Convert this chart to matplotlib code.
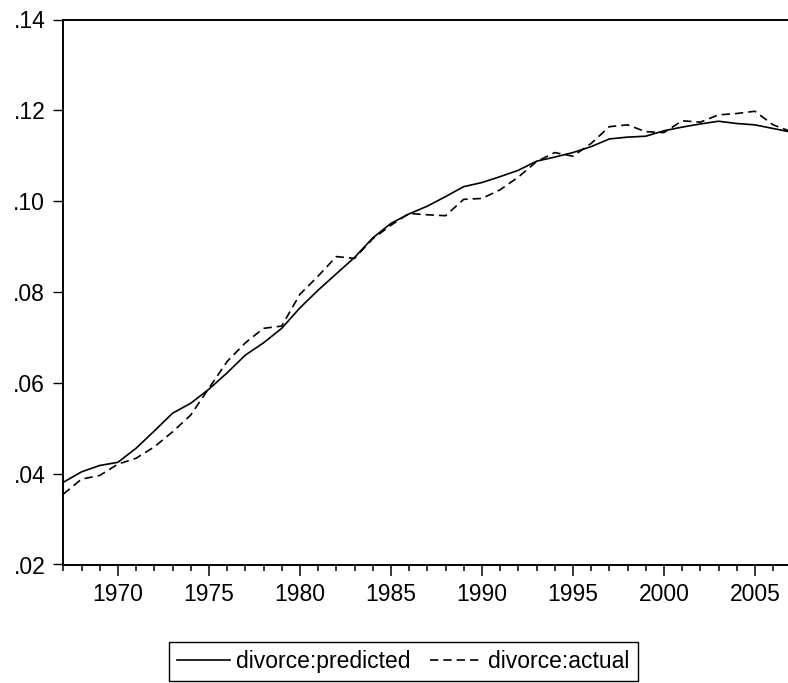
import numpy as np
from matplotlib import pyplot as plt
from matplotlib.ticker import FuncFormatter, MultipleLocator

years = np.arange(1967, 2008)

predicted = [0.0381, 0.0404, 0.0418, 0.0425, 0.0456, 0.0494, 0.0533, 0.0555,
             0.0586, 0.0622, 0.0661, 0.0688, 0.0720, 0.0765, 0.0804, 0.0840,
             0.0876, 0.0919, 0.0951, 0.0972, 0.0989, 0.1010, 0.1032, 0.1041,
             0.1054, 0.1068, 0.1088, 0.1097, 0.1107, 0.1120, 0.1137, 0.1141,
             0.1143, 0.1155, 0.1163, 0.1170, 0.1176, 0.1171, 0.1168, 0.1160,
             0.1152]

actual = [0.0355, 0.0388, 0.0396, 0.0421, 0.0434, 0.0459, 0.0492, 0.0529,
          0.0588, 0.0647, 0.0688, 0.0720, 0.0725, 0.0795, 0.0835, 0.0878,
          0.0874, 0.0917, 0.0947, 0.0973, 0.0970, 0.0968, 0.1004, 0.1006,
          0.1025, 0.1053, 0.1087, 0.1107, 0.1099, 0.1127, 0.1164, 0.1168,
          0.1153, 0.1151, 0.1177, 0.1174, 0.1190, 0.1193, 0.1198, 0.1168,
          0.1153]

plt.rcParams['font.family'] = ['Liberation Sans', 'DejaVu Sans']

W, H = 788, 683
fig = plt.figure(figsize=(W / 100, H / 100), dpi=100)
left, right, top, bottom = 63.3, 791.3, 19.5, 564.5
ax = fig.add_axes([left / W, 1 - bottom / H, (right - left) / W, (bottom - top) / H])

ax.plot(years, predicted, color='black', lw=1.2, label='divorce:predicted')
ax.plot(years, actual, color='black', lw=1.2, ls=(0, (5, 3)), label='divorce:actual')

ax.set_xlim(1967, 2007)
ax.set_ylim(0.02, 0.14)

# EViews-style ticks: year labels every 5, a small tick each year
ax.xaxis.set_major_locator(MultipleLocator(5))
ax.xaxis.set_minor_locator(MultipleLocator(1))
ax.yaxis.set_major_locator(MultipleLocator(0.02))
ax.yaxis.set_major_formatter(FuncFormatter(lambda v, p: f'{v:.2f}'.lstrip('0')))

ax.tick_params(axis='x', which='major', direction='out', length=8, width=1.1,
               labelsize=16.5, pad=5)
ax.tick_params(axis='x', which='minor', direction='out', length=4.5, width=1.1)
ax.tick_params(axis='y', direction='out', length=7, width=1.0, labelsize=16.5, pad=6)
ax.tick_params(top=False, right=False)

for s in ax.spines.values():
    s.set_linewidth(1.4)

leg = fig.legend(loc='upper center', bbox_to_anchor=(403.5 / W, 1 - 642 / H), ncol=2,
                 fontsize=16.5, frameon=True, fancybox=False, edgecolor='black',
                 framealpha=1, handlelength=2.3, handletextpad=0.25,
                 columnspacing=0.85, borderpad=0.35, borderaxespad=0)
leg.get_frame().set_linewidth(1.0)

fig.savefig('out.png', dpi=100)
